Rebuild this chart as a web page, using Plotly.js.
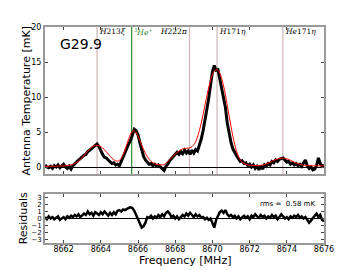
<!DOCTYPE html>
<html><head><meta charset="utf-8">
<script src="https://cdn.plot.ly/plotly-3.0.1.min.js"></script>
<style>html,body{margin:0;padding:0;background:#fff}#chart{width:360px;height:270px}</style>
</head><body><div id="chart"></div>
<script>
const freq = [8661.0,8661.1,8661.2,8661.3,8661.4,8661.5,8661.6,8661.7,8661.8,8661.9,
8662.0,8662.1,8662.2,8662.3,8662.4,8662.5,8662.6,8662.7,8662.8,8662.9,
8663.0,8663.1,8663.2,8663.3,8663.4,8663.5,8663.6,8663.7,8663.8,8663.9,
8664.0,8664.1,8664.2,8664.3,8664.4,8664.5,8664.6,8664.7,8664.8,8664.9,
8665.0,8665.1,8665.2,8665.3,8665.4,8665.5,8665.6,8665.7,8665.8,8665.9,
8666.0,8666.1,8666.2,8666.3,8666.4,8666.5,8666.6,8666.7,8666.8,8666.9,
8667.0,8667.1,8667.2,8667.3,8667.4,8667.5,8667.6,8667.7,8667.8,8667.9,
8668.0,8668.1,8668.2,8668.3,8668.4,8668.5,8668.6,8668.7,8668.8,8668.9,
8669.0,8669.1,8669.2,8669.3,8669.4,8669.5,8669.6,8669.7,8669.8,8669.9,
8670.0,8670.1,8670.2,8670.3,8670.4,8670.5,8670.6,8670.7,8670.8,8670.9,
8671.0,8671.1,8671.2,8671.3,8671.4,8671.5,8671.6,8671.7,8671.8,8671.9,
8672.0,8672.1,8672.2,8672.3,8672.4,8672.5,8672.6,8672.7,8672.8,8672.9,
8673.0,8673.1,8673.2,8673.3,8673.4,8673.5,8673.6,8673.7,8673.8,8673.9,
8674.0,8674.1,8674.2,8674.3,8674.4,8674.5,8674.6,8674.7,8674.8,8674.9,
8675.0,8675.1,8675.2,8675.3,8675.4,8675.5,8675.6,8675.7,8675.8,8675.9,
8676.0];
const spectrum = [0.3,0.0,-0.1,0.1,-0.2,0.2,0.0,0.3,-0.1,0.1,
0.4,0.0,-0.2,0.1,-0.3,0.2,0.5,0.8,1.0,1.2,
1.5,1.7,1.8,2.2,2.4,2.6,2.8,3.1,3.3,2.9,
2.3,1.8,1.4,1.3,1.0,0.7,0.5,0.6,0.3,0.4,
0.2,0.8,1.5,2.2,2.8,3.3,3.8,4.6,5.4,5.2,
4.6,3.5,2.5,1.5,1.0,0.7,0.4,0.5,0.2,0.4,
0.1,0.3,0.0,-0.3,-0.5,0.1,0.4,0.9,1.2,1.4,
1.7,2.1,1.8,2.2,1.9,2.4,2.0,2.3,1.8,2.4,
2.0,2.5,2.3,3.0,4.0,5.2,6.5,8.2,9.8,11.6,
13.6,14.5,13.8,13.9,12.6,11.5,10.2,8.5,6.3,4.6,
3.5,2.6,2.0,1.6,1.2,0.8,0.9,0.5,0.6,0.2,
0.4,0.0,0.3,-0.2,0.1,-0.4,0.2,-0.3,0.3,0.1,
0.5,0.3,0.8,0.6,1.0,0.8,1.1,1.2,1.3,1.0,
0.7,0.8,0.4,0.6,0.3,0.5,0.2,0.4,0.1,0.6,
1.0,0.2,-0.2,0.0,-0.4,-0.3,0.2,1.3,0.5,0.1,
0.3];
const model = [0.1,0.1,0.1,0.1,0.1,0.12,0.12,0.13,0.14,0.15,
0.16,0.18,0.2,0.24,0.3,0.38,0.5,0.65,0.85,1.1,
1.35,1.65,1.95,2.25,2.55,2.8,2.98,3.08,3.1,3.05,
2.92,2.72,2.45,2.15,1.85,1.55,1.25,1.02,0.88,0.85,
0.95,1.25,1.75,2.45,3.25,4.05,4.7,5.1,5.15,4.9,
4.4,3.8,3.1,2.5,1.95,1.5,1.1,0.8,0.6,0.45,
0.38,0.33,0.3,0.3,0.35,0.55,0.8,1.05,1.3,1.55,
1.8,2.05,2.25,2.45,2.58,2.65,2.68,2.7,2.75,2.9,
3.2,3.6,4.3,5.2,6.3,7.5,8.8,10.1,11.3,12.4,
13.2,13.7,13.9,13.8,13.4,12.6,11.6,10.3,8.8,7.3,
5.8,4.4,3.2,2.25,1.5,1.0,0.7,0.5,0.38,0.3,
0.25,0.22,0.2,0.2,0.2,0.22,0.25,0.3,0.36,0.44,
0.54,0.66,0.8,0.93,1.05,1.15,1.22,1.26,1.27,1.24,
1.17,1.07,0.95,0.82,0.7,0.58,0.48,0.4,0.33,0.28,
0.25,0.22,0.2,0.19,0.18,0.18,0.17,0.17,0.17,0.17,
0.17];
const residuals = [0.2,-0.1,0.3,0.0,0.2,-0.1,0.1,0.3,-0.2,0.0,
0.2,-0.1,0.3,0.1,0.4,0.2,0.5,0.3,0.6,0.2,
0.4,0.7,0.5,1.0,0.6,0.8,0.4,0.9,0.7,0.5,
0.9,0.6,1.0,0.7,0.4,0.8,0.5,0.9,0.6,1.1,
1.2,1.0,1.3,1.2,1.4,1.5,1.6,1.5,1.1,0.5,
-0.3,-0.8,-1.3,-1.1,-0.6,0.2,0.1,0.4,0.0,0.3,
0.1,0.5,0.2,0.6,0.3,0.8,1.0,0.7,0.2,0.4,
0.0,0.3,-0.1,0.2,0.5,0.3,0.7,0.4,0.8,0.5,
0.2,0.6,0.3,0.5,0.1,0.2,-0.1,0.1,-0.2,0.0,
-0.6,-1.3,-0.2,0.4,0.9,1.1,0.8,1.2,0.6,0.3,
0.5,0.2,0.4,0.0,0.3,-0.1,0.2,0.4,0.1,0.3,
-0.1,0.4,0.2,0.6,0.3,0.1,0.5,0.2,0.4,0.0,
0.3,0.1,0.5,0.2,0.4,-0.1,0.2,0.6,0.3,0.0,
0.2,-0.1,0.3,0.1,0.4,0.2,0.5,0.1,0.3,0.0,
0.2,-0.2,-0.6,-0.3,0.1,0.4,0.7,0.2,0.5,-0.2,
-0.4];
const lineLabels = ['<i>H</i>213<i>ξ</i>','<sup>3</sup><i>He</i><sup>+</sup>','<i>H</i>222<i>π</i>','<i>H</i>171<i>η</i>','<i>He</i>171<i>η</i>'];
const lineFreqs = [8663.8, 8665.66, 8668.77, 8670.25, 8673.79];
const lineColors = ['#cdb7b7','#2e8b2e','#cdb7b7','#cdb7b7','#cdb7b7'];
const labelColors = ['#000','#2e8b2e','#000','#000','#000'];
const labelSides = ['left','left','right','left','left'];
const xTicks = [8662,8664,8666,8668,8670,8672,8674,8676];
const yTicksTop = [0,5,10,15,20];
const yTicksRes = [-3,-2,-1,0,1,2,3];
const yTicksResText = ['\u22123','\u22122','\u22121','0','1','2','3'];
const sourceName = 'G29.9';
const rmsText = 'rms =  0.58 mK';
const yTitleTop = 'Antenna Temperature [mK]';
const yTitleRes = 'Residuals';
const xTitle = 'Frequency [MHz]';

const F = 'DejaVu Sans, sans-serif';
const traces = [
  {x: freq, y: spectrum, xaxis:'x', yaxis:'y', mode:'lines', line:{color:'#000', width:3}, hoverinfo:'skip'},
  {x: freq, y: model, xaxis:'x', yaxis:'y', mode:'lines', line:{color:'#ff0000', width:1, shape:'spline'}, hoverinfo:'skip'},
  {x: freq, y: residuals, xaxis:'x2', yaxis:'y2', mode:'lines', line:{color:'#000', width:2.5}, hoverinfo:'skip'}
];
const shapes = lineFreqs.map((f,i)=>({type:'line', xref:'x', yref:'y domain', x0:f, x1:f, y0:0, y1:1, line:{color:lineColors[i], width:1.2}, layer:'below'}));
const annotations = lineFreqs.map((f,i)=>({x:f, y:19.35, xref:'x', yref:'y', text:lineLabels[i], showarrow:false, xanchor:labelSides[i], yanchor:'middle', font:{family:'DejaVu Serif, serif', size:7.5, color:labelColors[i]}}));
annotations.push({x:0.047, y:0.921, xref:'paper', yref:'paper', text:sourceName, showarrow:false, xanchor:'left', yanchor:'middle', font:{family:F, size:14, color:'#000'}});
annotations.push({x:0.975, y:0.21, xref:'paper', yref:'paper', text:rmsText, showarrow:false, xanchor:'right', yanchor:'top', font:{family:F, size:7, color:'#000'}});
annotations.push({x:-0.0645, y:0.655, xref:'paper', yref:'paper', text:yTitleTop, showarrow:false, textangle:-90, xanchor:'center', yanchor:'middle', font:{family:F, size:11, color:'#000'}});
annotations.push({x:-0.079, y:0.114, xref:'paper', yref:'paper', text:yTitleRes, showarrow:false, textangle:-90, xanchor:'center', yanchor:'middle', font:{family:F, size:11, color:'#000'}});
annotations.push({x:0.5, y:-0.079, xref:'paper', yref:'paper', text:xTitle, showarrow:false, xanchor:'center', yanchor:'middle', font:{family:F, size:11, color:'#000'}});
const axCommon = {showgrid:false, ticks:'inside', ticklen:3, tickcolor:'#444', showline:true, linecolor:'#999', linewidth:2, mirror:'allticks', tickfont:{family:F, size:8, color:'#000'}};
const layout = {
  width:360, height:270, margin:{l:45, r:36, t:27, b:27}, paper_bgcolor:'#fff', plot_bgcolor:'#fff', showlegend:false,
  xaxis: Object.assign({}, axCommon, {range:[8661,8676], tickvals:xTicks, showticklabels:false, anchor:'y', matches:'x2'}),
  yaxis: Object.assign({}, axCommon, {domain:[0.3194,1], range:[-1,20], tickvals:yTicksTop, zeroline:true, zerolinecolor:'#000', zerolinewidth:1}),
  xaxis2: Object.assign({}, axCommon, {range:[8661,8676], tickvals:xTicks, anchor:'y2', ticklabelstandoff:-3}),
  yaxis2: Object.assign({}, axCommon, {domain:[0,0.2269], range:[-3.5,3.5], tickvals:yTicksRes, ticktext:yTicksResText, anchor:'x2', zeroline:true, zerolinecolor:'#000', zerolinewidth:1, tickfont:{family:F, size:7, color:'#000'}}),
  shapes: shapes, annotations: annotations
};
Plotly.newPlot('chart', traces, layout, {staticPlot:true, displayModeBar:false});
</script></body></html>
